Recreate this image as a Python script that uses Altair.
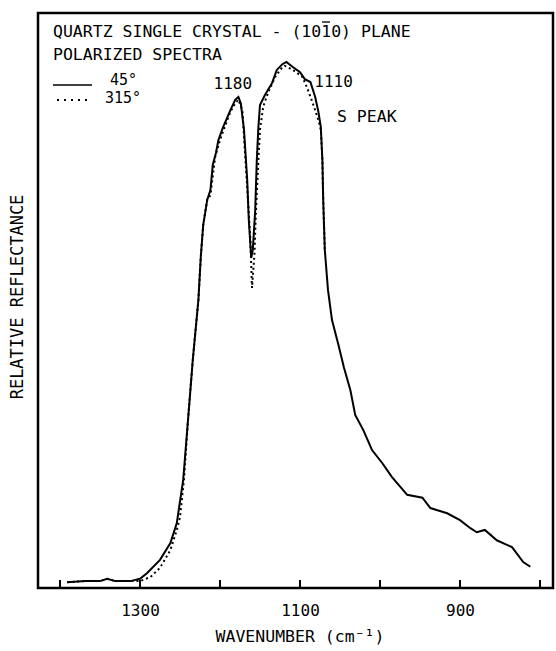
import altair as alt
import pandas as pd

FONT = "DejaVu Sans Mono"

# 45 degree spectrum (solid)
solid_w = [1391, 1369, 1350, 1341, 1331, 1312, 1300, 1291, 1275, 1262, 1254, 1246,
           1240, 1234, 1227, 1224, 1221, 1216, 1212, 1209, 1205, 1202, 1196, 1187,
           1181, 1177, 1174, 1170, 1166, 1164, 1161, 1159, 1156, 1154, 1152, 1150,
           1144, 1135, 1129, 1122, 1117, 1109, 1100, 1094, 1087, 1081, 1077, 1074,
           1072, 1071, 1069, 1065, 1060, 1052, 1045, 1037, 1031, 1021, 1010, 997,
           985, 966, 947, 937, 916, 900, 887, 879, 869, 854, 835, 821, 812]
solid_v = [1.0, 1.2, 1.2, 1.6, 1.2, 1.2, 1.6, 2.6, 4.9, 7.8, 11.3, 18.8,
           29.2, 39.7, 50.1, 57.6, 63.1, 67.5, 69.2, 73.6, 75.7, 77.9, 80.2, 83.1,
           84.9, 85.4, 84.3, 79.7, 71.0, 64.0, 57.4, 58.8, 65.7, 74.4, 80.2, 84.0,
           85.7, 87.8, 90.1, 91.1, 91.5, 90.6, 89.7, 88.5, 88.0, 85.4, 82.8, 80.2,
           74.4, 67.5, 58.8, 51.8, 46.6, 42.3, 38.3, 34.4, 30.1, 27.5, 24.0, 21.7,
           19.3, 16.2, 15.7, 13.9, 13.0, 11.8, 10.4, 9.7, 10.1, 8.3, 7.1, 4.5, 3.7]

# 315 degree spectrum (dotted)
dotted_w = [1391, 1369, 1350, 1341, 1331, 1312, 1300, 1287, 1275, 1262, 1254, 1250,
            1245, 1240, 1234, 1227, 1224, 1221, 1216, 1212, 1206, 1200, 1194, 1187,
            1181, 1177, 1172, 1169, 1165, 1162, 1160, 1157, 1155, 1152, 1150, 1146,
            1140, 1131, 1122, 1119, 1109, 1097, 1090, 1084, 1077, 1074, 1072, 1071,
            1069]
dotted_v = [1.0, 1.2, 1.2, 1.6, 1.2, 1.2, 1.2, 1.9, 3.5, 6.6, 10.1, 12.3,
            18.8, 29.2, 39.7, 50.1, 57.6, 63.1, 67.5, 68.3, 75.0, 77.9, 80.2, 82.8,
            84.3, 84.9, 83.1, 76.2, 67.5, 60.5, 52.2, 57.9, 65.7, 74.4, 79.7, 83.7,
            86.1, 88.9, 90.6, 90.8, 90.1, 88.9, 86.6, 84.3, 81.4, 79.7, 74.4, 67.5,
            58.8]

tick_values = [1400, 1300, 1200, 1100, 1000, 900, 800]
label_values = [1300, 1100, 900]
peak_labels = ["1180", "1110"]
peak_label_w = [1184, 1058]
peak_label_v = [86.8, 87.1]

solid_df = pd.DataFrame({"w": solid_w, "v": solid_v, "i": range(len(solid_w))})
dotted_df = pd.DataFrame({"w": dotted_w, "v": dotted_v, "i": range(len(dotted_w))})
ticks_df = pd.DataFrame({"w": tick_values})
peaks_df = pd.DataFrame({"w": peak_label_w, "v": peak_label_v, "t": peak_labels})

xscale = alt.Scale(domain=[783.75, 1427.5], reverse=True, nice=False, zero=False)
yscale = alt.Scale(domain=[0, 100], nice=False, zero=False)

x_enc = alt.X("w:Q", scale=xscale,
              axis=alt.Axis(values=label_values, ticks=False, domain=False, grid=False,
                            labelFont=FONT, labelFontSize=16, labelColor="black",
                            labelPadding=14, labelFlush=False, title=None, format="d"))
y_enc = alt.Y("v:Q", scale=yscale, axis=None)

dotted = alt.Chart(dotted_df).mark_line(
    color="black", strokeWidth=2, strokeDash=[2, 3], strokeCap="butt"
).encode(x=x_enc, y=y_enc, order="i:Q")

solid = alt.Chart(solid_df).mark_line(
    color="black", strokeWidth=2
).encode(x=alt.X("w:Q", scale=xscale), y=alt.Y("v:Q", scale=yscale), order="i:Q")

ticks = alt.Chart(ticks_df).mark_rule(color="black", strokeWidth=2).encode(
    x=alt.X("w:Q", scale=xscale), y=alt.value(575), y2=alt.value(567)
)

peaks = alt.Chart(peaks_df).mark_text(
    font=FONT, fontSize=16, color="black", align="center", baseline="alphabetic"
).encode(x=alt.X("w:Q", scale=xscale), y=alt.Y("v:Q", scale=yscale), text="t:N")

def label(text, x, y, align="left", angle=0, baseline="alphabetic", size=16.5):
    kw = dict(font=FONT, fontSize=size, color="black", align=align, baseline=baseline)
    if angle:
        kw["angle"] = angle
    return alt.Chart(pd.DataFrame({"t": [text]})).mark_text(**kw).encode(
        x=alt.value(x), y=alt.value(y), text="t:N")

texts = [
    label("QUARTZ SINGLE CRYSTAL - (1010) PLANE", 15, 24),
    label("POLARIZED SPECTRA", 15, 47),
    label("45\u00b0", 72, 72, size=15),
    label("315\u00b0", 67, 90, size=15),
    label("S PEAK", 299, 109),
    label("WAVENUMBER (cm\u207b\u00b9)", 262, 629, align="center"),
    label("RELATIVE REFLECTANCE", -20, 284, align="center", angle=270,
          baseline="middle", size=17),
]

def hrule(x1, x2, y, width=1.5, dash=None):
    kw = dict(color="black", strokeWidth=width, strokeCap="butt")
    if dash:
        kw["strokeDash"] = dash
    return alt.Chart(pd.DataFrame({"a": [0]})).mark_rule(**kw).encode(
        x=alt.value(x1), x2=alt.value(x2), y=alt.value(y))

leg_solid = hrule(15, 54, 72)
leg_dot = hrule(19, 54, 87, width=2, dash=[2, 5])
overbar = hrule(284, 292, 9, width=1.3)

chart = alt.layer(dotted, solid, ticks, peaks, leg_solid, leg_dot, overbar, *texts).properties(
    width=515, height=575,
    padding={"left": 38, "top": 13, "right": 3, "bottom": 63},
    autosize=alt.AutoSizeParams(type="none"),
    background="white",
).configure_view(stroke="black", strokeWidth=2.5)

chart.save("out.html", embed_options={"renderer": "svg", "actions": False})
